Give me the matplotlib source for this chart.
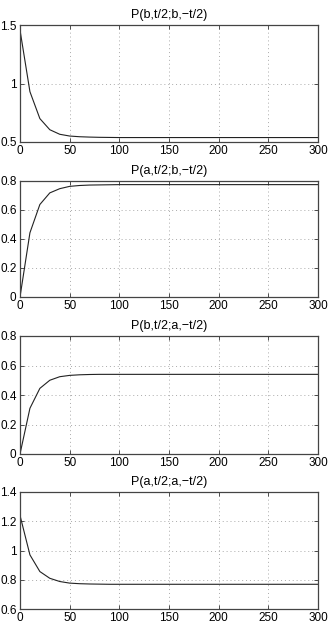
import matplotlib
matplotlib.use("Agg")
import matplotlib.pyplot as plt

plt.rcParams['font.family'] = ['Liberation Sans', 'DejaVu Sans']

t = [0, 10, 20, 30, 40, 50, 60, 70, 80, 90, 100, 150, 200, 250, 300]
p_bb = [1.457, 0.93, 0.70, 0.605, 0.566, 0.551, 0.545, 0.542, 0.540, 0.539, 0.538, 0.538, 0.538, 0.538, 0.538]
p_ab = [0.0, 0.443, 0.638, 0.718, 0.747, 0.763, 0.769, 0.772, 0.773, 0.774, 0.775, 0.775, 0.775, 0.775, 0.775]
p_ba = [0.0, 0.31, 0.445, 0.50, 0.524, 0.533, 0.537, 0.539, 0.540, 0.540, 0.540, 0.540, 0.540, 0.540, 0.540]
p_aa = [1.24, 0.97, 0.856, 0.81, 0.788, 0.777, 0.773, 0.771, 0.770, 0.769, 0.769, 0.769, 0.769, 0.769, 0.769]

titles = ['P(b,t/2;b,\u2212t/2)', 'P(a,t/2;b,\u2212t/2)', 'P(b,t/2;a,\u2212t/2)', 'P(a,t/2;a,\u2212t/2)']
series = [p_bb, p_ab, p_ba, p_aa]
ylims = [(0.5, 1.5), (0, 0.8), (0, 0.8), (0.6, 1.4)]
yticks = [[0.5, 1, 1.5], [0, 0.2, 0.4, 0.6, 0.8], [0, 0.2, 0.4, 0.6, 0.8], [0.6, 0.8, 1, 1.2, 1.4]]
yticklabels = [['0.5', '1', '1.5'], ['0', '0.2', '0.4', '0.6', '0.8'], ['0', '0.2', '0.4', '0.6', '0.8'], ['0.6', '0.8', '1', '1.2', '1.4']]
xticks = [0, 50, 100, 150, 200, 250, 300]

W, H = 332, 627
fig = plt.figure(figsize=(W / 100, H / 100), dpi=100)
boxes = [(25, 142), (181, 297), (336, 454), (492, 609)]
left, right = 20, 318
for i, (top, bot) in enumerate(boxes):
    ax = fig.add_axes([left / W, 1 - bot / H, (right - left) / W, (bot - top) / H])
    ax.plot(t, series[i], color='#222222', lw=0.8)
    ax.set_xlim(0, 300)
    ax.set_ylim(*ylims[i])
    ax.set_xticks(xticks)
    ax.set_xticklabels([str(x) for x in xticks])
    ax.set_yticks(yticks[i])
    ax.set_yticklabels(yticklabels[i])
    ax.grid(True, linestyle=(0, (1, 3)), color='#aaaaaa', lw=0.7)
    ax.tick_params(direction='in', top=True, right=True, labelsize=8.5, length=3,
                   pad=2.5, width=0.6, colors='#333333', labelcolor='black')
    for s in ax.spines.values():
        s.set_linewidth(0.9)
        s.set_color('#444444')
    ax.set_title(titles[i], fontsize=9, pad=5)

fig.savefig('out.png', dpi=100)
